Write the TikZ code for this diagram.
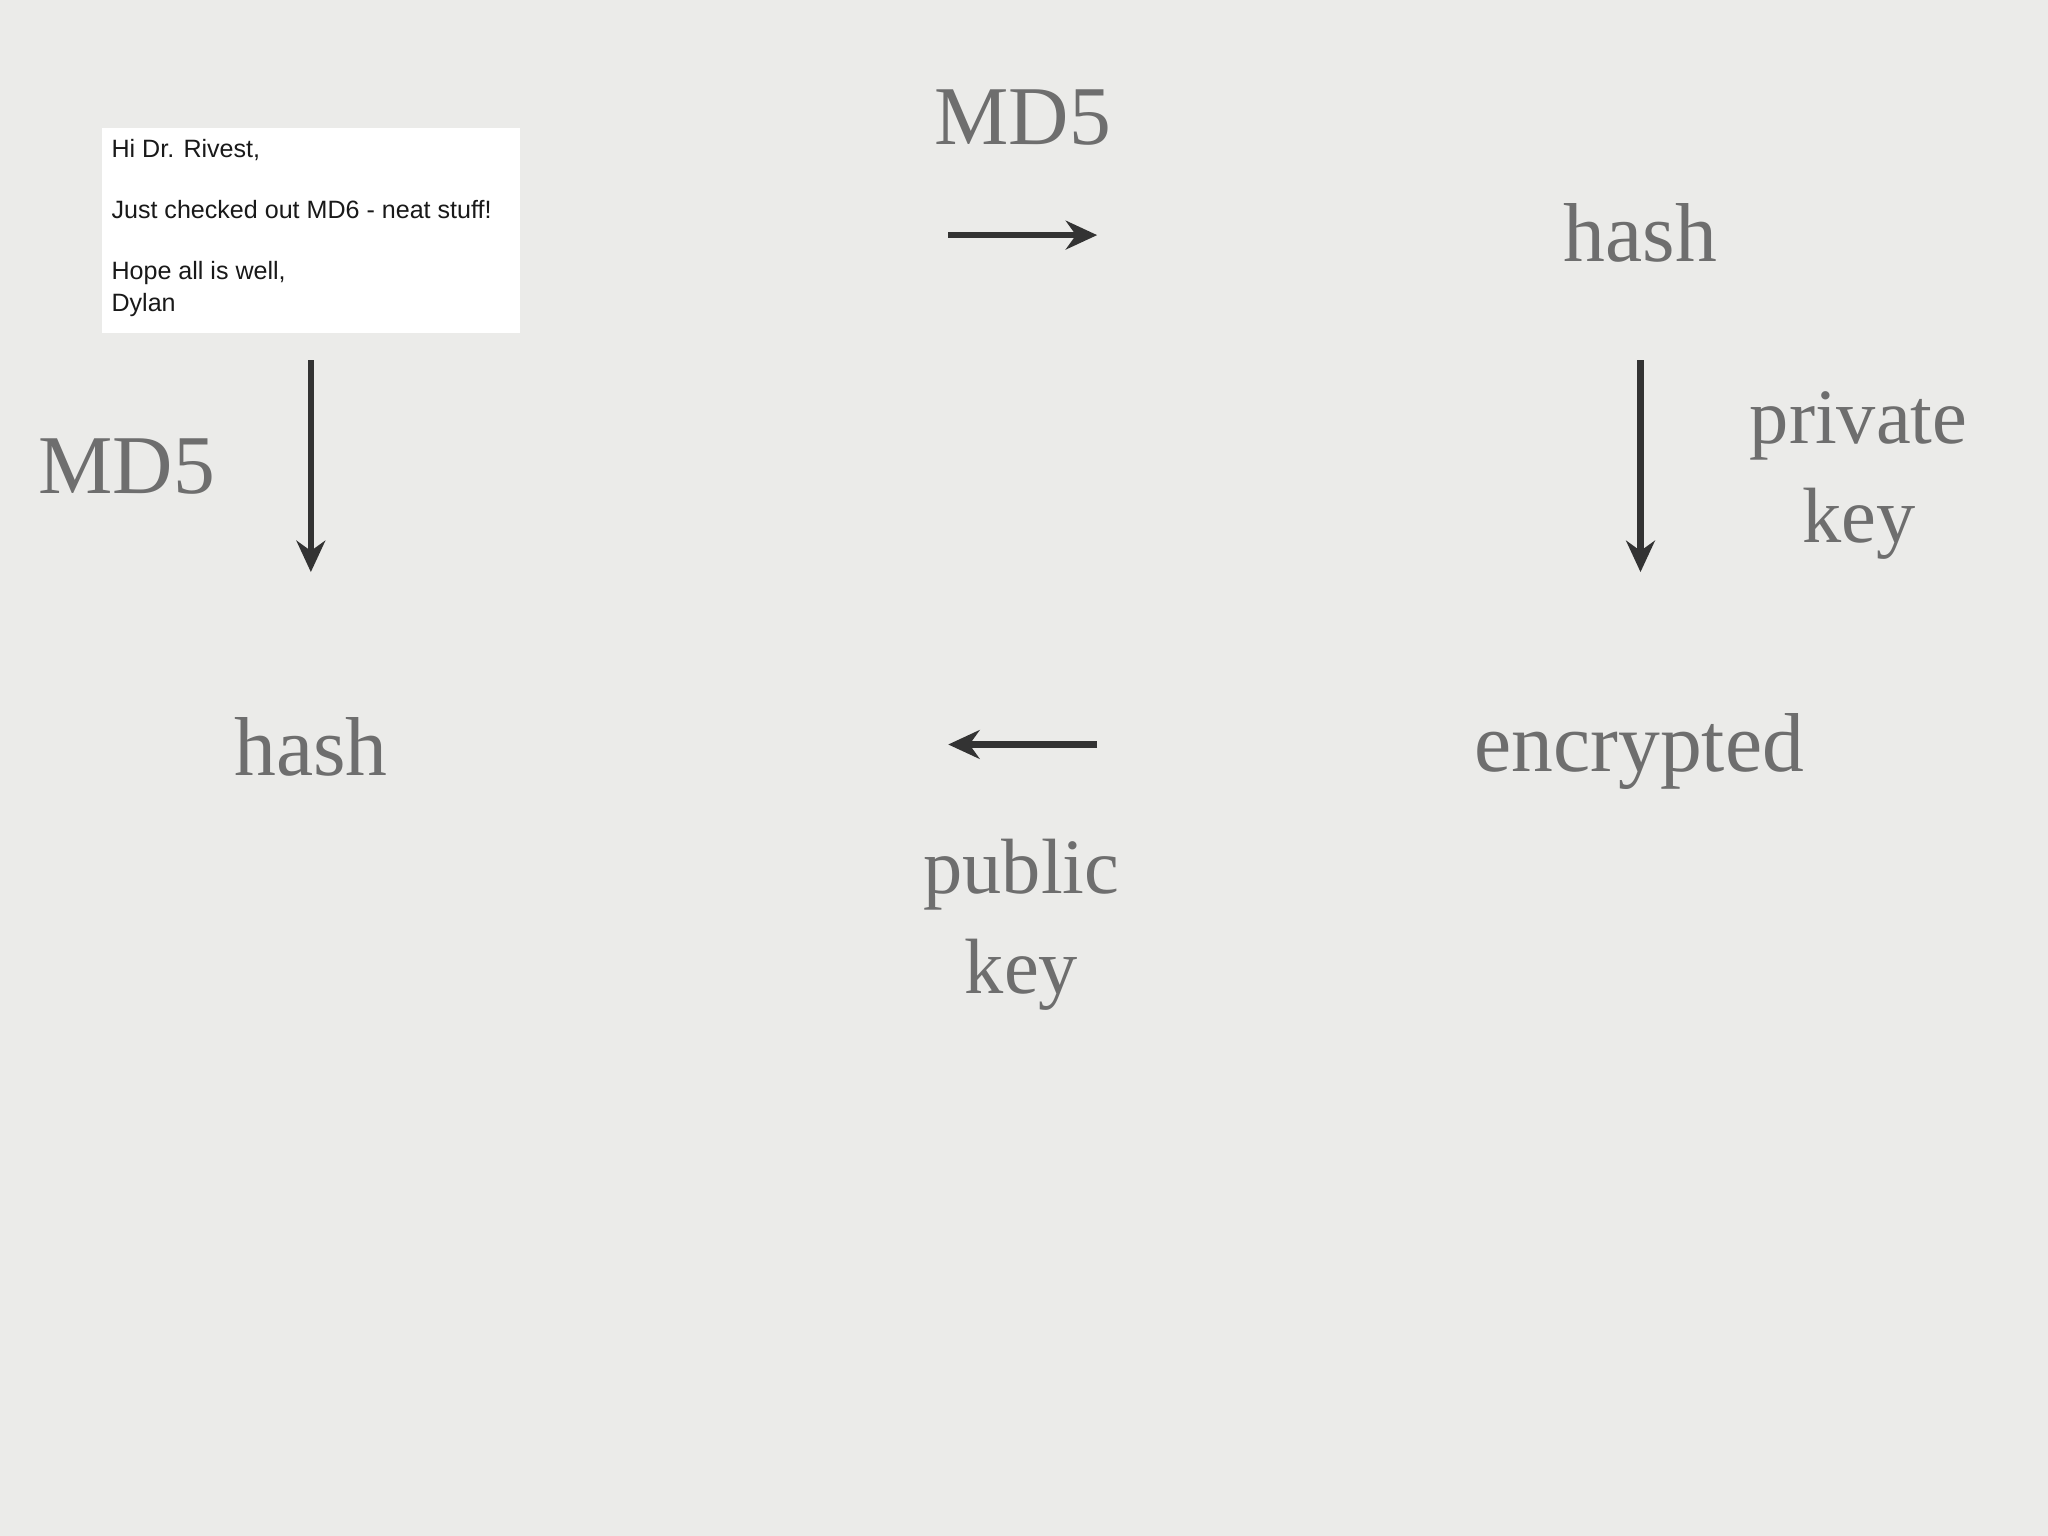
\documentclass[tikz,border=0pt]{standalone}
\usepackage{fontspec}
\setmainfont{Liberation Serif}
\newfontfamily\sansf{Liberation Sans}
\usetikzlibrary{arrows.meta}
\definecolor{bg}{HTML}{EBEBE9}
\begin{document}
\begin{tikzpicture}[x=0.5pt,y=-0.5pt,
  lbl/.style={text=black!57,font=\fontsize{32}{38}\selectfont,align=center,inner sep=0},
  arr/.style={draw=black!80,line width=2.4pt,-{Stealth[length=12pt,width=11pt]}}]
\fill[bg] (0,0) rectangle (1568,1176);
\fill[white] (78,98) rectangle (398,255);
\node[anchor=north west,inner sep=0,align=left,font=\sansf\fontsize{9.6}{12}\selectfont,text=black!90] (mail) at (85,106)
 {Hi Dr. Rivest,\\[11.5pt]Just checked out MD6 - neat stuff!\\[11.5pt]Hope all is well,\\Dylan};
\node[lbl] (md5t) at (783,90) {MD5};
\node[lbl] (hasht) at (1256,178) {hash};
\node[lbl,font=\fontsize{30}{38}\selectfont] (priv) at (1423,364) {private\\key};
\node[lbl] (enc) at (1255,575) {encrypted};
\node[lbl,font=\fontsize{30}{38}\selectfont] (pub) at (782,708) {public\\key};
\node[lbl] (hashl) at (238,572) {hash};
\node[lbl] (md5l) at (97,357) {MD5};
\coordinate (a1) at (726,180); \coordinate (a2) at (840,180);
\coordinate (b1) at (1256,276); \coordinate (b2) at (1256,438);
\coordinate (c1) at (840,570); \coordinate (c2) at (726,570);
\coordinate (d1) at (238,276); \coordinate (d2) at (238,438);
\draw[arr] (a1) -- (a2);
\draw[arr] (b1) -- (b2);
\draw[arr] (c1) -- (c2);
\draw[arr] (d1) -- (d2);
\end{tikzpicture}
\end{document}
